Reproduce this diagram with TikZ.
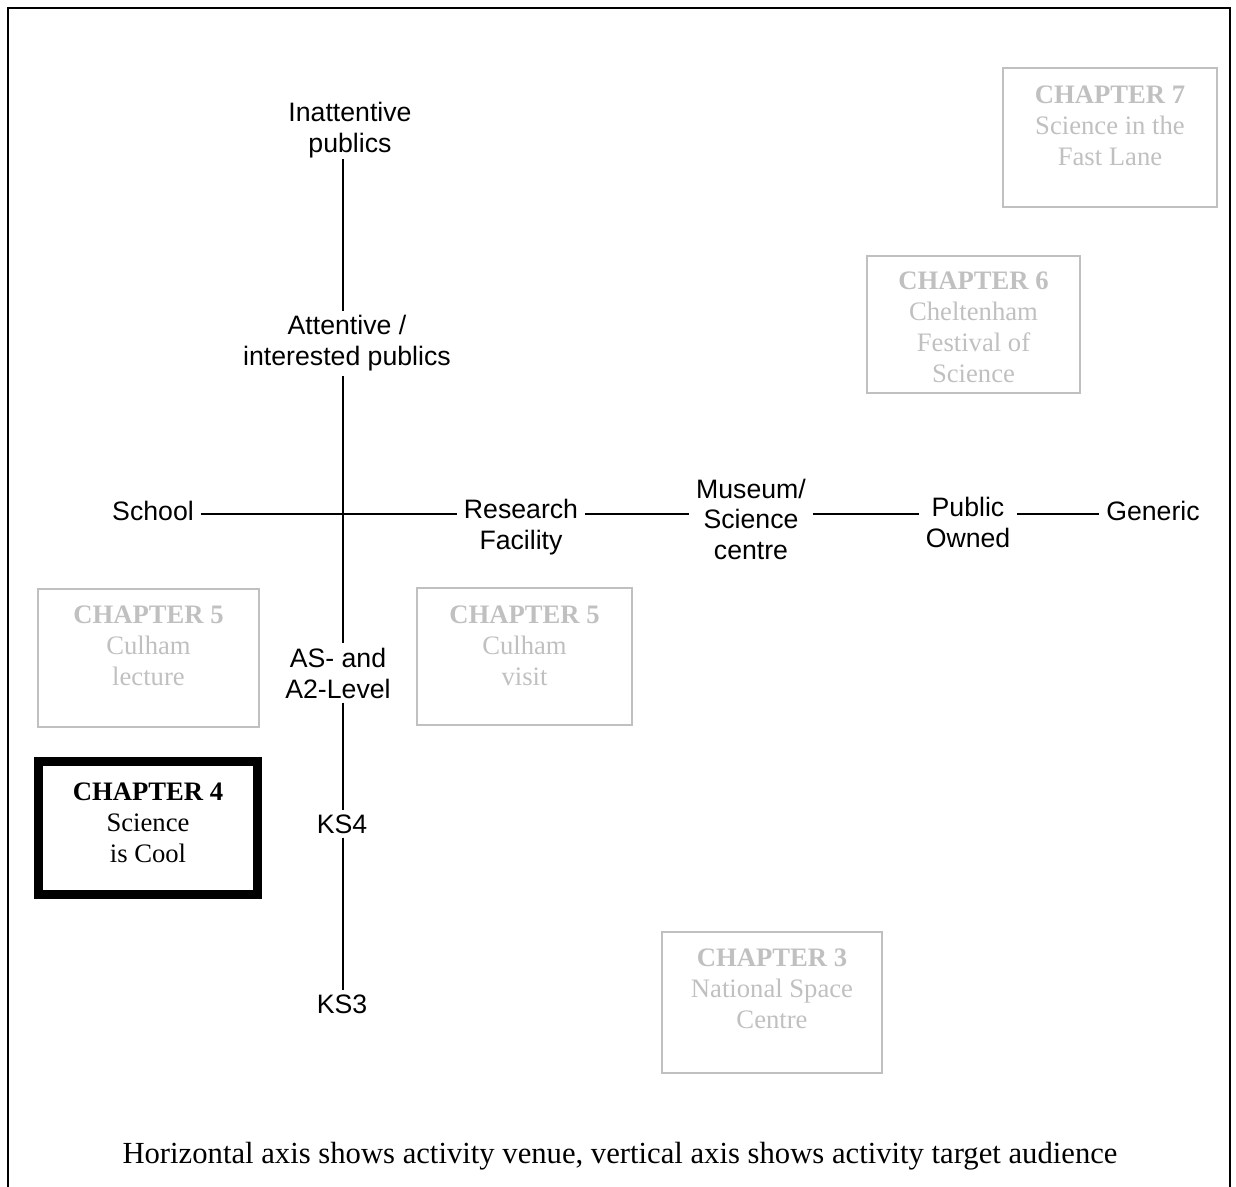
\documentclass[tikz,border=0pt]{standalone}
\usepackage{fontspec}
\setmainfont{Liberation Serif}
\newfontfamily\axisfont{Liberation Sans}
\usetikzlibrary{positioning}
\definecolor{faded}{HTML}{C0C0C0}
\tikzset{
    axislabel/.style={font=\axisfont\fontsize{20}{23.25}\selectfont, align=center,
        inner xsep=5pt, inner ysep=3pt},
    axisline/.style={line width=1.2pt},
    chapbox/.style={draw=faded, line width=1.5pt, inner sep=0pt},
    chaptext/.style={font=\fontsize{20}{23.25}\selectfont, align=center, inner sep=0pt},
    mainbox/.style={draw=black, line width=6.75pt, inner sep=0pt}
}

\begin{document}
\begin{tikzpicture}[x=0.75pt, y=-0.75pt]
    \useasboundingbox (0,0) rectangle (1236,1187);
    % frame, open at the bottom
    \draw[line width=1.5pt] (8,1187) -- (8,8) -- (1230,8) -- (1230,1187);

    \coordinate (origin) at (343,514);

    % vertical axis: target audience (base = last line)
    \node[axislabel, anchor=base, inner ysep=0pt] (inatt) at (350,153) {Inattentive\\publics};
    \node[axislabel, anchor=base] (attn) at (347,366) {Attentive /\\interested publics};
    \node[axislabel, anchor=base] (alevel) at (338,698) {AS- and\\A2-Level};
    \node[axislabel, anchor=base] (ks4) at (342,833) {KS4};
    \node[axislabel, anchor=base] (ks3) at (342,1013) {KS3};

    % horizontal axis: venue
    \node[axislabel, anchor=base] (school) at (153,521) {School};
    \node[axislabel, anchor=base] (research) at (521,550) {Research\\Facility};
    \node[axislabel, anchor=base] (museum) at (751,560) {Museum/\\Science\\centre};
    \node[axislabel, anchor=base] (public) at (968,547) {Public\\Owned};
    \node[axislabel, anchor=base] (generic) at (1153,521) {Generic};

    \draw[axisline] (inatt.south -| origin) -- (attn.north -| origin);
    \draw[axisline] (attn.south -| origin) -- (alevel.north -| origin);
    \draw[axisline] (alevel.south -| origin) -- (ks4.north -| origin);
    \draw[axisline] (ks4.south -| origin) -- (ks3.north -| origin);

    \draw[axisline] (school.east |- origin) -- (research.west |- origin);
    \draw[axisline] (research.east |- origin) -- (museum.west |- origin);
    \draw[axisline] (museum.east |- origin) -- (public.west |- origin);
    \draw[axisline] (public.east |- origin) -- (generic.west |- origin);

    % chapter boxes
    \node[chapbox, minimum width=160.5pt, minimum height=104.25pt] (ch7) at (1110,137.5) {};
    \node[chaptext, text=faded, anchor=base] at (1110,166) {\textbf{CHAPTER 7}\\Science in the\\Fast Lane};

    \node[chapbox, minimum width=159.75pt, minimum height=102.75pt] (ch6) at (973.5,324.5) {};
    \node[chaptext, text=faded, anchor=base] at (973.5,383) {\textbf{CHAPTER 6}\\Cheltenham\\Festival of\\Science};

    \node[chapbox, minimum width=165.75pt, minimum height=103.5pt] (ch5a) at (148.5,658) {};
    \node[chaptext, text=faded, anchor=base] at (148.5,685) {\textbf{CHAPTER 5}\\Culham\\lecture};

    \node[chapbox, minimum width=161.25pt, minimum height=102.75pt] (ch5b) at (524.5,656.5) {};
    \node[chaptext, text=faded, anchor=base] at (524.5,685) {\textbf{CHAPTER 5}\\Culham\\visit};

    \node[mainbox, minimum width=164.6pt, minimum height=99.75pt] (ch4) at (148,828) {};
    \node[chaptext, anchor=base] at (148,862) {\textbf{CHAPTER 4}\\Science\\is Cool};

    \node[chapbox, minimum width=165pt, minimum height=105.75pt] (ch3) at (772,1002.5) {};
    \node[chaptext, text=faded, anchor=base] at (772,1028) {\textbf{CHAPTER 3}\\National Space\\Centre};

    \node[font=\fontsize{23}{27}\selectfont, anchor=base] (caption) at (620,1163)
        {Horizontal axis shows activity venue, vertical axis shows activity target audience};
\end{tikzpicture}
\end{document}
